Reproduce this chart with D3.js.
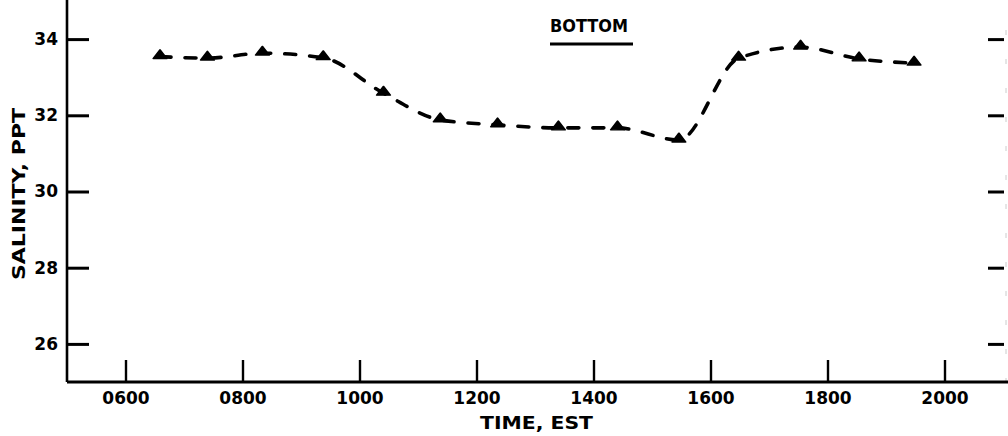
<!DOCTYPE html>
<html><head><meta charset="utf-8">
<script src="https://cdn.jsdelivr.net/npm/d3@7"></script>
<style>
body{margin:0;background:#fff;}
text{font-family:"DejaVu Sans",sans-serif;font-weight:bold;fill:#000;}
</style></head>
<body><svg id="c" width="1008" height="436"></svg>
<script>
// Data (time in decimal hours EST, salinity in ppt)
const times = [6.59, 7.40, 8.34, 9.38, 10.41, 11.38, 12.36, 13.40, 14.41, 15.46, 16.48, 17.54, 18.54, 19.48];
const salinity = [33.54, 33.50, 33.63, 33.51, 32.58, 31.88, 31.75, 31.67, 31.67, 31.35, 33.50, 33.79, 33.48, 33.37];
const xTicks = [6, 8, 10, 12, 14, 16, 18, 20];
const xTickLabels = ["0600", "0800", "1000", "1200", "1400", "1600", "1800", "2000"];
const yTicks = [26, 28, 30, 32, 34];
const yTickLabels = ["26", "28", "30", "32", "34"];
const seriesName = "BOTTOM";
const xTitle = "TIME, EST";
const yTitle = "SALINITY, PPT";

const svg = d3.select("#c");
const x = d3.scaleLinear().domain([5, 21]).range([67, 1003]);
const y = d3.scaleLinear().domain([25, 35]).range([382, 1]);

// left axis
const gl = svg.append("g").attr("transform", `translate(${x(5)},0)`)
  .call(d3.axisLeft(y).tickValues(yTicks).tickFormat((d,i)=>yTickLabels[i]).tickSizeInner(-22).tickSizeOuter(0).tickPadding(9));
gl.select(".domain").remove();
gl.append("line").attr("x1",0).attr("x2",0).attr("y1",0).attr("y2",y(25)).attr("stroke","#000").attr("stroke-width",2.6);
gl.selectAll(".tick line").attr("stroke","#000").attr("stroke-width",3);
gl.selectAll(".tick text").style("font-size","17px").attr("font-family","DejaVu Sans").attr("fill","#000");

// right axis ticks
const gr = svg.append("g").attr("transform", `translate(1004,0)`)
  .call(d3.axisRight(y).tickValues(yTicks).tickFormat("").tickSizeInner(-16).tickSizeOuter(0));
gr.select(".domain").remove();
gr.append("line").attr("x1",2).attr("x2",2).attr("y1",30).attr("y2",y(25)).attr("stroke","#ccc").attr("stroke-width",1).attr("stroke-dasharray","5,24");
gr.selectAll(".tick line").attr("stroke","#000").attr("stroke-width",3);

// bottom axis
const gb = svg.append("g").attr("transform", `translate(0,${y(25)})`)
  .call(d3.axisBottom(x).tickValues(xTicks).tickFormat((d,i)=>xTickLabels[i]).tickSizeInner(-22).tickSizeOuter(0).tickPadding(10));
gb.select(".domain").remove();
gb.append("line").attr("x1",x(5)).attr("x2",1008).attr("y1",0).attr("y2",0).attr("stroke","#000").attr("stroke-width",3);
gb.selectAll(".tick line").attr("stroke","#000").attr("stroke-width",2.4);
gb.selectAll(".tick text").style("font-size","17px").attr("fill","#000");

// axis titles
svg.append("text").attr("x",480).attr("y",429).attr("textLength",113).attr("lengthAdjust","spacingAndGlyphs")
  .style("font-size","18px").text(xTitle);
svg.append("text").attr("transform","translate(25,194) rotate(-90)").attr("text-anchor","middle")
  .attr("textLength",172).attr("lengthAdjust","spacingAndGlyphs").style("font-size","18px").text(yTitle);

// series
const pts = times.map((t,i)=>[t, salinity[i]]);
const line = d3.line().x(d=>x(d[0])).y(d=>y(d[1])).curve(d3.curveMonotoneX);
svg.append("path").attr("d", line(pts)).attr("fill","none").attr("stroke","#000")
  .attr("stroke-width",3.6).attr("stroke-dasharray","11,14").attr("stroke-linecap","round");
svg.selectAll(".m").data(pts).enter().append("path").attr("class","m")
  .attr("transform", d=>`translate(${x(d[0])},${y(d[1])-1}) scale(1.2,0.9)`)
  .attr("d", d3.symbol(d3.symbolTriangle, 55)).attr("fill","#000").attr("stroke","#000").attr("stroke-width",1.5).attr("stroke-linejoin","round");

// legend
svg.append("text").attr("x",550).attr("y",32).attr("textLength",78).attr("lengthAdjust","spacingAndGlyphs")
  .style("font-size","18px").text(seriesName);
svg.append("line").attr("x1",550).attr("x2",633).attr("y1",44).attr("y2",44).attr("stroke","#000").attr("stroke-width",3);
</script></body></html>
